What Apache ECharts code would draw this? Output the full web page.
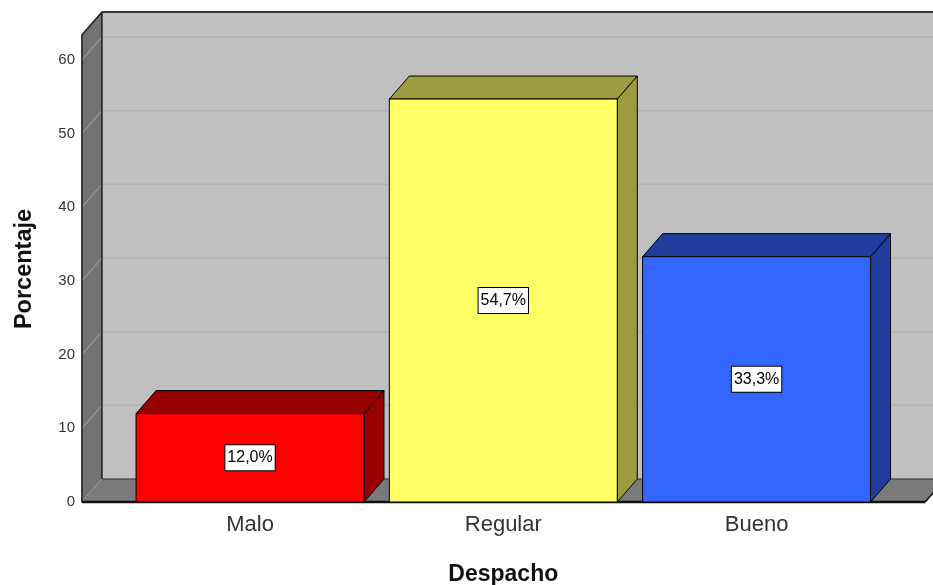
<!DOCTYPE html>
<html>
<head>
<meta charset="utf-8">
<script src="https://cdn.jsdelivr.net/npm/echarts@6/dist/echarts.min.js"></script>
<style>
  html, body { margin: 0; padding: 0; background: #fff; }
  #chart { width: 933px; height: 585px; }
</style>
</head>
<body>
<div id="chart"></div>
<script>
// Despacho: porcentaje por categoría
const categories = ['Malo', 'Regular', 'Bueno'];
const percentages = [12.0, 54.7, 33.3];
const yTicks = [0, 10, 20, 30, 40, 50, 60];

// Palette: front face and shaded (top/side) face per bar
const frontColors = ['#ff0000', '#ffff66', '#3366ff'];
const shadeColors = ['#990000', '#9c9c40', '#1f3d9c'];

const FONT = '"Liberation Sans", Arial, sans-serif';
const DX = 20, DY = 23;           // depth offset of the 3D box
const WALL_PAD_L = 41.5, WALL_PAD_R = 42, WALL_OVER = 25;

const chart = echarts.init(document.getElementById('chart'), null, { renderer: 'canvas' });

function renderFrame(params, api) {
  const cs = params.coordSys;
  const y0 = api.coord([0, 0])[1];
  const yTop = cs.y - WALL_OVER;
  const xL = cs.x - WALL_PAD_L;
  const xR = cs.x + cs.width + WALL_PAD_R;
  const bxL = xL + DX, bxR = xR + DX + 40;
  const kids = [];
  // back wall
  kids.push({ type: 'rect', shape: { x: bxL, y: yTop - DY, width: bxR - bxL, height: y0 - yTop },
    style: { fill: '#c0c0c0' } });
  // back wall grid lines
  yTicks.forEach(v => {
    const yy = api.coord([0, v])[1] - DY;
    kids.push({ type: 'line', shape: { x1: bxL, y1: yy, x2: bxR, y2: yy },
      style: { stroke: '#b2b2b2', lineWidth: 1.5 } });
  });
  // floor
  kids.push({ type: 'polygon', shape: { points: [[xL, y0], [xL + DX, y0 - DY], [xR + DX, y0 - DY], [xR, y0]] },
    style: { fill: '#7a7a7a', stroke: '#333', lineWidth: 1 } });
  // side wall
  kids.push({ type: 'polygon', shape: { points: [[xL, yTop], [xL + DX, yTop - DY], [xL + DX, y0 - DY], [xL, y0]] },
    style: { fill: '#737373' } });
  yTicks.forEach(v => {
    const yy = api.coord([0, v])[1];
    kids.push({ type: 'line', shape: { x1: xL, y1: yy, x2: xL + DX, y2: yy - DY },
      style: { stroke: '#a8a8a8', lineWidth: 1 } });
  });
  // outlines
  const edge = (x1, y1, x2, y2, w, c) => kids.push({ type: 'line', shape: { x1, y1, x2, y2 },
    style: { stroke: c || '#1a1a1a', lineWidth: w || 1.5 } });
  edge(xL, yTop, xL, y0, 1.5);
  edge(xL, yTop, xL + DX, yTop - DY, 1.5);
  edge(xL + DX, yTop - DY, xL + DX, y0 - DY, 1.5);
  edge(xL + DX, yTop - DY, bxR, yTop - DY, 2, '#333');
  edge(xL, y0, xR, y0, 2.5, '#111');
  edge(xR, y0, xR + DX, y0 - DY, 1.5, '#111');
  return { type: 'group', children: kids };
}

function renderBar(params, api) {
  const idx = params.dataIndex;
  const x = api.value(0), v = api.value(1);
  const top = api.coord([x, v]);
  const base = api.coord([x, 0]);
  const w = api.size([1, 0])[0] * 0.9;
  const x0 = top[0] - w / 2, x1 = top[0] + w / 2, yv = top[1], yb = base[1];
  const mid = api.coord([x, v / 2]);
  const line = { stroke: '#000', lineWidth: 1 };
  return {
    type: 'group',
    children: [
      { type: 'polygon', shape: { points: [[x1, yv], [x1 + DX, yv - DY], [x1 + DX, yb - DY], [x1, yb]] },
        style: Object.assign({ fill: shadeColors[idx] }, line) },
      { type: 'polygon', shape: { points: [[x0, yv], [x0 + DX, yv - DY], [x1 + DX, yv - DY], [x1, yv]] },
        style: Object.assign({ fill: shadeColors[idx] }, line) },
      { type: 'rect', shape: { x: x0, y: yv, width: w, height: yb - yv },
        style: Object.assign({ fill: frontColors[idx] }, line) },
      { type: 'text', x: mid[0], y: mid[1],
        style: { text: v.toFixed(1).replace('.', ',') + '%', fill: '#000', font: '16px ' + FONT,
          align: 'center', verticalAlign: 'middle', backgroundColor: '#fff',
          borderColor: '#000', borderWidth: 1, padding: [5, 2, 4, 2] } }
    ]
  };
}

chart.setOption({
  animation: false,
  backgroundColor: '#fff',
  grid: { left: 123.4, right: 49.8, top: 60, bottom: 83, outerBoundsMode: 'none', containLabel: false },
  xAxis: {
    type: 'category',
    data: categories,
    axisLine: { show: false },
    axisTick: { show: false },
    axisLabel: { fontFamily: FONT, fontSize: 22, color: '#333', margin: 12 },
    name: 'Despacho',
    nameLocation: 'middle',
    nameGap: 61,
    nameTextStyle: { fontFamily: FONT, fontSize: 23, fontWeight: 'bold', color: '#111' }
  },
  yAxis: {
    type: 'value',
    min: 0, max: 60, interval: 10,
    offset: 41.4,
    axisLine: { show: false },
    axisTick: { show: false },
    splitLine: { show: false },
    axisLabel: { fontFamily: FONT, fontSize: 15, color: '#333', margin: 7 },
    name: 'Porcentaje',
    nameLocation: 'middle',
    nameGap: 45,
    nameTextStyle: { fontFamily: FONT, fontSize: 23.5, fontWeight: 'bold', color: '#111', padding: [0, 0, 0, 24] }
  },
  series: [
    { type: 'custom', name: 'frame', z: 1, silent: true, clip: false,
      data: [[0, 0]], renderItem: renderFrame },
    { type: 'custom', name: 'Porcentaje', z: 2, clip: false,
      data: percentages.map((p, i) => [i, p]), renderItem: renderBar }
  ]
});
</script>
</body>
</html>
